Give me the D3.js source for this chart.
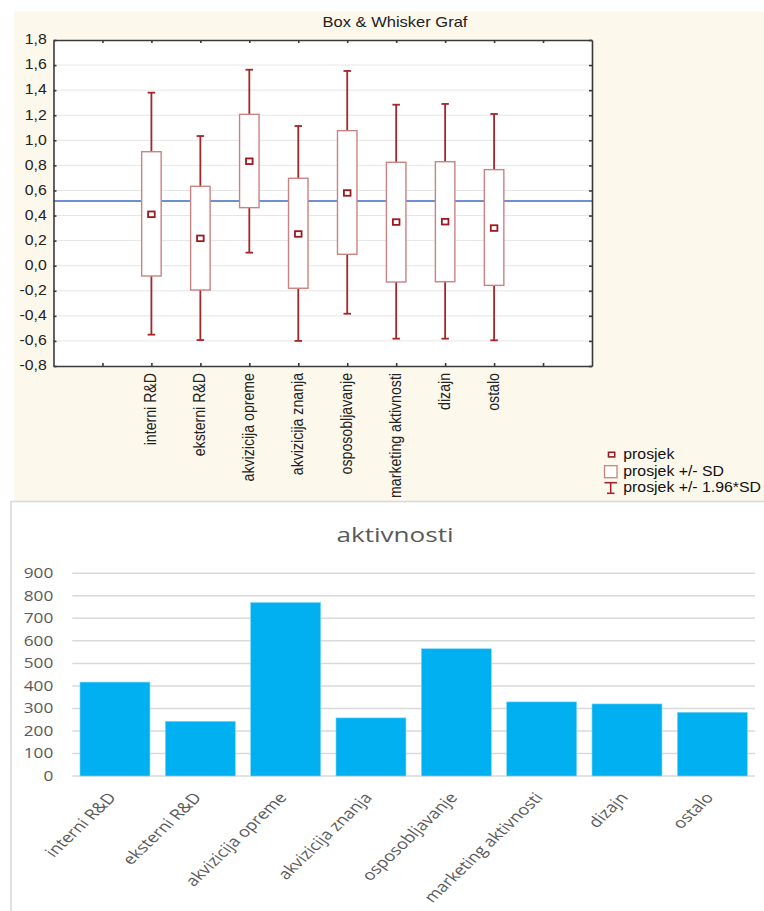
<!DOCTYPE html>
<html><head><meta charset="utf-8">
<script src="https://cdn.jsdelivr.net/npm/d3@7"></script>
<style>body{margin:0;background:#fff} svg{display:block}</style>
</head><body>
<svg id="chart" width="764" height="911"></svg>
<script>
// ---------- data: Box & Whisker ----------
const categories = ["interni R&D","eksterni R&D","akvizicija opreme","akvizicija znanja","osposobljavanje","marketing aktivnosti","dizajn","ostalo"];
const means   = [0.41, 0.218, 0.833, 0.253, 0.58, 0.348, 0.351, 0.30];
const sdHigh  = [0.909, 0.633, 1.207, 0.697, 1.077, 0.825, 0.829, 0.766];
const sdLow   = [-0.082, -0.194, 0.463, -0.18, 0.091, -0.13, -0.128, -0.157];
const ciHigh  = [1.38, 1.034, 1.563, 1.114, 1.553, 1.284, 1.29, 1.21];
const ciLow   = [-0.55, -0.593, 0.104, -0.60, -0.383, -0.582, -0.582, -0.595];
const referenceLine = 0.516;
const boxYTicks = [-0.8,-0.6,-0.4,-0.2,0,0.2,0.4,0.6,0.8,1.0,1.2,1.4,1.6,1.8];
const boxTitle = "Box & Whisker Graf";
const legendLabels = ["prosjek","prosjek +/- SD","prosjek +/- 1.96*SD"];

// ---------- data: bar chart ----------
const barTitle = "aktivnosti";
const barValues = [417, 243, 770, 258, 565, 329, 320, 283];
const barYTicks = [0,100,200,300,400,500,600,700,800,900];

const svg = d3.select("#chart");

function stext(g, x, y, str, o) {
  return g.append("text")
    .attr("transform", `translate(${x},${y}) scale(${o.sx},${o.sy}) rotate(${o.rot||0})`)
    .attr("text-anchor", o.anchor || "start")
    .attr("font-family", o.font)
    .attr("font-size", o.size)
    .attr("fill", o.fill)
    .text(str);
}

// ================= TOP PANEL =================
const TSX = 1.32, TSY = 1.15, TFONT = "'Liberation Sans', Arial, sans-serif";
svg.append("rect").attr("x",14).attr("y",11).attr("width",750).attr("height",490).attr("fill","#fdf8ec");

const x0 = 53.5, x1 = 592, y0 = 40, y1 = 366;
const bx = d3.scaleLinear().domain([0, categories.length + 3]).range([x0, x1]);
const by = d3.scaleLinear().domain([-0.8, 1.8]).range([y1, y0]);
const topG = svg.append("g");

topG.append("rect").attr("x",x0).attr("y",y0).attr("width",x1-x0).attr("height",y1-y0).attr("fill","#fff");

// grid
topG.append("g").selectAll("line").data(boxYTicks.slice(1,-1)).join("line")
  .attr("x1",x0).attr("x2",x1).attr("y1",d=>by(d)).attr("y2",d=>by(d))
  .attr("stroke","#e6e6e6").attr("stroke-width",1);

// reference line
topG.append("line").attr("x1",x0).attr("x2",x1).attr("y1",by(referenceLine)).attr("y2",by(referenceLine))
  .attr("stroke","#6f8fd3").attr("stroke-width",1.8);

// axes (ticks inward)
const xTickVals = d3.range(1, categories.length + 3);
function styleAxis(g){ g.selectAll("path,line").attr("stroke","#3a3a3a").attr("stroke-width",1.6); g.selectAll("text").remove(); }
topG.append("g").attr("transform",`translate(${x0},0)`).call(d3.axisLeft(by).tickValues(boxYTicks).tickSize(-3).tickSizeOuter(0)).call(styleAxis);
topG.append("g").attr("transform",`translate(${x1},0)`).call(d3.axisRight(by).tickValues(boxYTicks).tickSize(-3).tickSizeOuter(0)).call(styleAxis);
topG.append("g").attr("transform",`translate(0,${y1})`).call(d3.axisBottom(bx).tickValues(xTickVals).tickSize(-3).tickSizeOuter(0)).call(styleAxis);
topG.append("g").attr("transform",`translate(0,${y0})`).call(d3.axisTop(bx).tickValues(xTickVals).tickSize(-3).tickSizeOuter(0)).call(styleAxis);

// y tick labels
boxYTicks.forEach(v => {
  stext(topG, 46.7, by(v) + 4.3, v.toFixed(1).replace(".", ","), {sx:TSX, sy:TSY, anchor:"end", font:TFONT, size:12, fill:"#222"});
});

// title
stext(topG, 395, 27, boxTitle, {sx:TSX, sy:TSY, anchor:"middle", font:TFONT, size:12.5, fill:"#222"});

// boxes
const whiskerColor = "#a3262b", boxColor = "#c98383", meanColor = "#9a1a1f";
const bw = 19.5, cw = 7.5;
categories.forEach((c, i) => {
  const cx = bx(i + 2);
  topG.append("line").attr("x1",cx).attr("x2",cx).attr("y1",by(ciLow[i])).attr("y2",by(ciHigh[i]))
    .attr("stroke",whiskerColor).attr("stroke-width",1.8);
  topG.append("line").attr("x1",cx-cw/2).attr("x2",cx+cw/2).attr("y1",by(ciHigh[i])).attr("y2",by(ciHigh[i]))
    .attr("stroke",whiskerColor).attr("stroke-width",1.8);
  topG.append("line").attr("x1",cx-cw/2).attr("x2",cx+cw/2).attr("y1",by(ciLow[i])).attr("y2",by(ciLow[i]))
    .attr("stroke",whiskerColor).attr("stroke-width",1.8);
  topG.append("rect").attr("x",cx-bw/2).attr("y",by(sdHigh[i])).attr("width",bw).attr("height",by(sdLow[i])-by(sdHigh[i]))
    .attr("fill","#fff").attr("stroke",boxColor).attr("stroke-width",1.4);
  topG.append("rect").attr("x",cx-3.3).attr("y",by(means[i])-2.8).attr("width",6.6).attr("height",5.6)
    .attr("fill","#fff").attr("stroke",meanColor).attr("stroke-width",1.8);
  stext(topG, cx + 5, 373, c, {sx:TSX, sy:TSY, rot:-90, anchor:"end", font:TFONT, size:12.3, fill:"#222"});
});

// legend
const lg = topG.append("g");
lg.append("rect").attr("x",608.5).attr("y",452.3).attr("width",6.2).attr("height",4.6)
  .attr("fill","#fff").attr("stroke",meanColor).attr("stroke-width",1.6);
lg.append("rect").attr("x",604.5).attr("y",465.7).attr("width",12.5).attr("height",12)
  .attr("fill","#fff").attr("stroke",boxColor).attr("stroke-width",1.3);
lg.append("line").attr("x1",610.7).attr("x2",610.7).attr("y1",482.7).attr("y2",493.3).attr("stroke",whiskerColor).attr("stroke-width",1.6);
lg.append("line").attr("x1",604.5).attr("x2",617).attr("y1",482.7).attr("y2",482.7).attr("stroke",whiskerColor).attr("stroke-width",1.6);
lg.append("line").attr("x1",607).attr("x2",614.5).attr("y1",493.3).attr("y2",493.3).attr("stroke",whiskerColor).attr("stroke-width",1.6);
[459.3, 475.7, 492.3].forEach((yy, k) => {
  stext(lg, 623.3, yy, legendLabels[k], {sx:TSX, sy:TSY, anchor:"start", font:TFONT, size:12, fill:"#111"});
});

// ================= BOTTOM PANEL =================
const BSX = 1.38, BSY = 1.1, BFONT = "'Open Sans', 'Noto Sans', sans-serif", BCOL = "#595959";
const botG = svg.append("g");
botG.append("rect").attr("x",11).attr("y",501.5).attr("width",770).attr("height",430)
  .attr("fill","#fff").attr("stroke","#d9d9d9").attr("stroke-width",1.6);

stext(botG, 395, 542, barTitle, {sx:1.45, sy:BSY, anchor:"middle", font:BFONT, size:18, fill:BCOL});

const px0 = 72.3, px1 = 755, py0 = 573.3, py1 = 776;
const xb = d3.scaleBand().domain(categories).range([px0, px1]).paddingInner(0.18).paddingOuter(0.09);
const yb = d3.scaleLinear().domain([0, 900]).range([py1, py0]);

botG.append("g").selectAll("line").data(barYTicks).join("line")
  .attr("x1",px0).attr("x2",px1).attr("y1",d=>yb(d)).attr("y2",d=>yb(d))
  .attr("stroke","#d9d9d9").attr("stroke-width",1.5);

botG.append("g").selectAll("rect").data(barValues).join("rect")
  .attr("x",(d,i)=>xb(categories[i])).attr("width",xb.bandwidth())
  .attr("y",d=>yb(d)).attr("height",d=>yb(0)-yb(d))
  .attr("fill","#00b0f0").attr("stroke","#7fd7f7").attr("stroke-width",0.6);

barYTicks.forEach(v => {
  stext(botG, 53.3, yb(v) + 4.8, String(v), {sx:BSX, sy:BSY, anchor:"end", font:BFONT, size:12.5, fill:BCOL});
});

categories.forEach(c => {
  const cx = xb(c) + xb.bandwidth()/2;
  stext(botG, cx + 2, 798, c, {sx:BSX, sy:BSY, rot:-50, anchor:"end", font:BFONT, size:13.2, fill:BCOL});
});
</script>
</body></html>
